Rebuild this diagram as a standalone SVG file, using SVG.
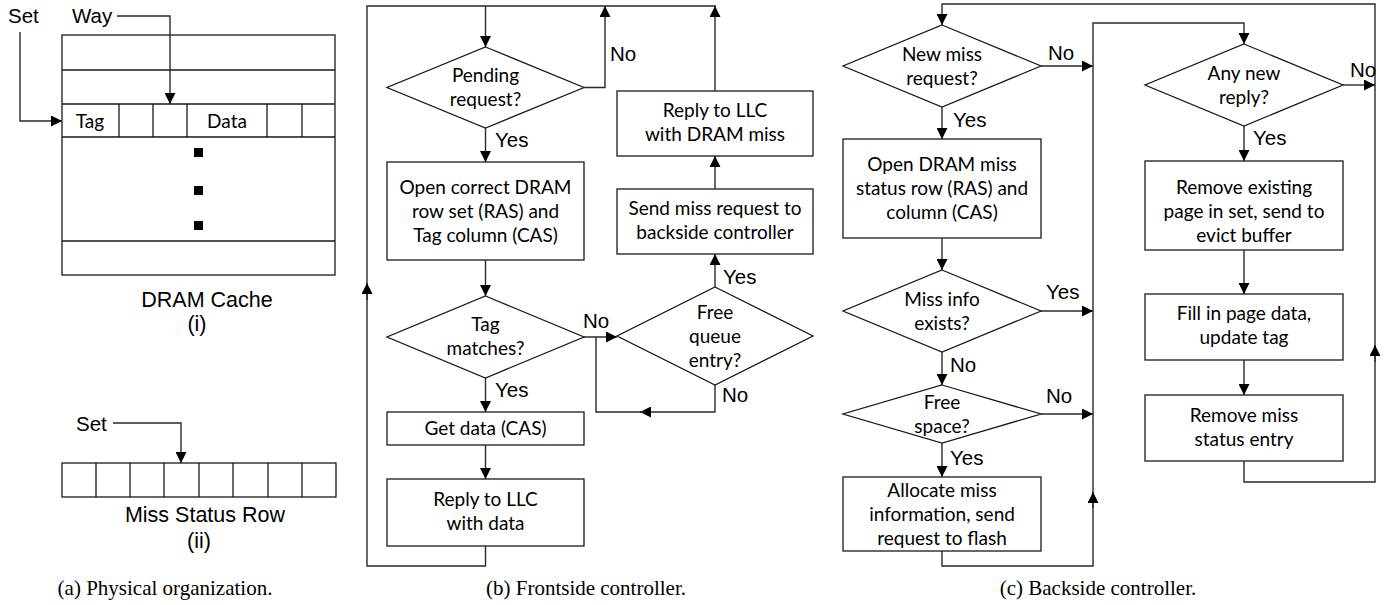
<svg xmlns="http://www.w3.org/2000/svg" width="1391" height="605" viewBox="0 0 1391 605">
<style>
.bx{fill:#fff;stroke:#1a1a1a;stroke-width:1.3}
.ln{fill:none;stroke:#1a1a1a;stroke-width:1.3}
.cn{fill:none;stroke:#2a2a2a;stroke-width:1.4}
.ar{marker-end:url(#ah)}
.t{font-family:Lato,"Open Sans",sans-serif;font-size:19px;text-anchor:middle;fill:#000}
.a{font-family:"Liberation Sans",Arial,sans-serif;font-size:20.5px;fill:#000}
.am{font-family:"Liberation Sans",Arial,sans-serif;font-size:21.5px;fill:#000;text-anchor:middle}
.cap{font-family:"Liberation Serif","Times New Roman",serif;font-size:21px;text-anchor:middle;fill:#000}
</style>
<defs>
<marker id="ah" markerUnits="userSpaceOnUse" markerWidth="11" markerHeight="11" refX="11" refY="5.5" orient="auto">
<path d="M0,0 L11,5.5 L0,11 z" fill="#000"/>
</marker>
</defs>
<rect width="1391" height="605" fill="#fff"/>

<!-- Panel (a) -->
<g id="dram-cache">
<rect class="bx" x="62" y="35" width="273" height="240"/>
<path class="ln" d="M62,70 H335 M62,104 H335 M62,137 H335 M62,241 H335 M119,104 V137 M153,104 V137 M187,104 V137 M267,104 V137 M302,104 V137"/>
<text class="t" x="90" y="128">Tag</text>
<text class="t" x="227" y="128">Data</text>
<rect x="194" y="148" width="9" height="9" fill="#000"/>
<rect x="194" y="186" width="9" height="9" fill="#000"/>
<rect x="194" y="221" width="9" height="9" fill="#000"/>
<text class="am" x="207" y="307">DRAM Cache</text>
<text class="am" x="197" y="331">(i)</text>
</g>
<g id="miss-status-row">
<rect class="bx" x="62" y="463" width="274" height="34"/>
<path class="ln" d="M96,463 V497 M130,463 V497 M164,463 V497 M199,463 V497 M233,463 V497 M268,463 V497 M302,463 V497"/>
<text class="am" x="205" y="522">Miss Status Row</text>
<text class="am" x="199" y="548">(ii)</text>
</g>
<g id="labels-a">
<text class="a" x="8" y="23">Set</text>
<text class="a" x="72" y="23">Way</text>
<text class="a" x="76" y="431">Set</text>
</g>

<!-- Panel (b) nodes -->
<g id="pending">
<polygon class="bx" points="485.5,47 584,87.5 485.5,128 387,87.5"/>
<text class="t" x="485.5" y="82">Pending</text>
<text class="t" x="485.5" y="106">request?</text>
</g>
<g id="open-correct">
<rect class="bx" x="387" y="162" width="197" height="98"/>
<text class="t" x="485.5" y="194">Open correct DRAM</text>
<text class="t" x="485.5" y="218">row set (RAS) and</text>
<text class="t" x="485.5" y="242">Tag column (CAS)</text>
</g>
<g id="tag-matches">
<polygon class="bx" points="485.5,296 584,337 485.5,378 387,337"/>
<text class="t" x="485.5" y="331">Tag</text>
<text class="t" x="485.5" y="355">matches?</text>
</g>
<g id="get-data">
<rect class="bx" x="387" y="412" width="197" height="33"/>
<text class="t" x="485.5" y="435">Get data (CAS)</text>
</g>
<g id="reply-data">
<rect class="bx" x="387" y="479" width="197" height="67"/>
<text class="t" x="485.5" y="506">Reply to LLC</text>
<text class="t" x="485.5" y="530">with data</text>
</g>
<g id="free-queue">
<polygon class="bx" points="715,287 813,336 715,385 617,336"/>
<text class="t" x="715" y="318.5">Free</text>
<text class="t" x="715" y="342.5">queue</text>
<text class="t" x="715" y="366.5">entry?</text>
</g>
<g id="send-miss">
<rect class="bx" x="617" y="189" width="196" height="65"/>
<text class="t" x="715" y="215">Send miss request to</text>
<text class="t" x="715" y="239">backside controller</text>
</g>
<g id="reply-miss">
<rect class="bx" x="617" y="91" width="196" height="65"/>
<text class="t" x="715" y="117">Reply to LLC</text>
<text class="t" x="715" y="141">with DRAM miss</text>
</g>

<!-- Panel (c) nodes -->
<g id="new-miss">
<polygon class="bx" points="942,25 1041,66 942,107 843,66"/>
<text class="t" x="942" y="61">New miss</text>
<text class="t" x="942" y="85">request?</text>
</g>
<g id="open-dram-miss">
<rect class="bx" x="843" y="139" width="198" height="99"/>
<text class="t" x="942" y="171">Open DRAM miss</text>
<text class="t" x="942" y="195">status row (RAS) and</text>
<text class="t" x="942" y="219">column (CAS)</text>
</g>
<g id="miss-info">
<polygon class="bx" points="942,270 1041,311 942,352 843,311"/>
<text class="t" x="942" y="305.5">Miss info</text>
<text class="t" x="942" y="329.5">exists?</text>
</g>
<g id="free-space">
<polygon class="bx" points="942,385 1041,414 942,443 843,414"/>
<text class="t" x="942" y="408.5">Free</text>
<text class="t" x="942" y="432.5">space?</text>
</g>
<g id="allocate">
<rect class="bx" x="843" y="477" width="198" height="74"/>
<text class="t" x="942" y="497">Allocate miss</text>
<text class="t" x="942" y="521">information, send</text>
<text class="t" x="942" y="545">request to flash</text>
</g>
<g id="any-reply">
<polygon class="bx" points="1244,44 1343,85 1244,126 1145,85"/>
<text class="t" x="1244" y="80">Any new</text>
<text class="t" x="1244" y="104">reply?</text>
</g>
<g id="remove-page">
<rect class="bx" x="1145" y="161" width="198" height="89"/>
<text class="t" x="1244" y="194">Remove existing</text>
<text class="t" x="1244" y="218">page in set, send to</text>
<text class="t" x="1244" y="242">evict buffer</text>
</g>
<g id="fill-page">
<rect class="bx" x="1145" y="294" width="198" height="66"/>
<text class="t" x="1244" y="320">Fill in page data,</text>
<text class="t" x="1244" y="344">update tag</text>
</g>
<g id="remove-miss">
<rect class="bx" x="1145" y="395" width="198" height="66"/>
<text class="t" x="1244" y="422">Remove miss</text>
<text class="t" x="1244" y="446">status entry</text>
</g>

<!-- Connectors -->
<g id="connectors">
<path class="cn ar" d="M20,32 V121 H62"/>
<path class="cn ar" d="M117,16 H170 V104"/>
<path class="cn ar" d="M113,423 H181 V463"/>

<path class="cn" d="M485.5,546 V566 H367 V6 H716"/>
<path class="cn ar" d="M367,300 V283"/>
<path class="cn ar" d="M485.5,6 V47"/>
<path class="cn ar" d="M584,87.5 H605 V6"/>
<path class="cn ar" d="M485.5,128 V162"/>
<path class="cn ar" d="M485.5,260 V296"/>
<path class="cn ar" d="M485.5,378 V412"/>
<path class="cn ar" d="M485.5,445 V479"/>
<path class="cn ar" d="M584,337 H617"/>
<path class="cn ar" d="M715,385 V412 H640"/>
<path class="cn" d="M645,412 H596 V337"/>
<path class="cn ar" d="M715,287 V254"/>
<path class="cn ar" d="M715,189 V156"/>
<path class="cn ar" d="M715,91 V6"/>

<path class="cn ar" d="M1244,461 V482 H1375 V4 H942 V25"/>
<path class="cn ar" d="M1375,362 V345"/>
<path class="cn ar" d="M1041,66 H1093"/>
<path class="cn ar" d="M942,551 V566 H1093 V23 H1244 V44"/>
<path class="cn ar" d="M1093,508 V492"/>
<path class="cn ar" d="M942,107 V139"/>
<path class="cn ar" d="M942,238 V270"/>
<path class="cn ar" d="M1041,311 H1093"/>
<path class="cn ar" d="M942,352 V385"/>
<path class="cn ar" d="M1041,414 H1093"/>
<path class="cn ar" d="M942,443 V477"/>
<path class="cn ar" d="M1343,85 H1375"/>
<path class="cn ar" d="M1244,126 V161"/>
<path class="cn ar" d="M1244,250 V294"/>
<path class="cn ar" d="M1244,360 V395"/>
</g>

<g id="edge-labels">
<text class="a" x="610" y="61">No</text>
<text class="a" x="495" y="147">Yes</text>
<text class="a" x="583" y="328">No</text>
<text class="a" x="495" y="397">Yes</text>
<text class="a" x="723" y="284">Yes</text>
<text class="a" x="722" y="402">No</text>
<text class="a" x="1048" y="60">No</text>
<text class="a" x="953" y="127">Yes</text>
<text class="a" x="1046" y="299">Yes</text>
<text class="a" x="950" y="372">No</text>
<text class="a" x="1046" y="403">No</text>
<text class="a" x="950" y="465">Yes</text>
<text class="a" x="1350" y="77">No</text>
<text class="a" x="1253" y="145">Yes</text>
</g>

<g id="captions">
<text class="cap" x="165" y="595">(a) Physical organization.</text>
<text class="cap" x="586" y="595">(b) Frontside controller.</text>
<text class="cap" x="1098" y="595">(c) Backside controller.</text>
</g>
</svg>
